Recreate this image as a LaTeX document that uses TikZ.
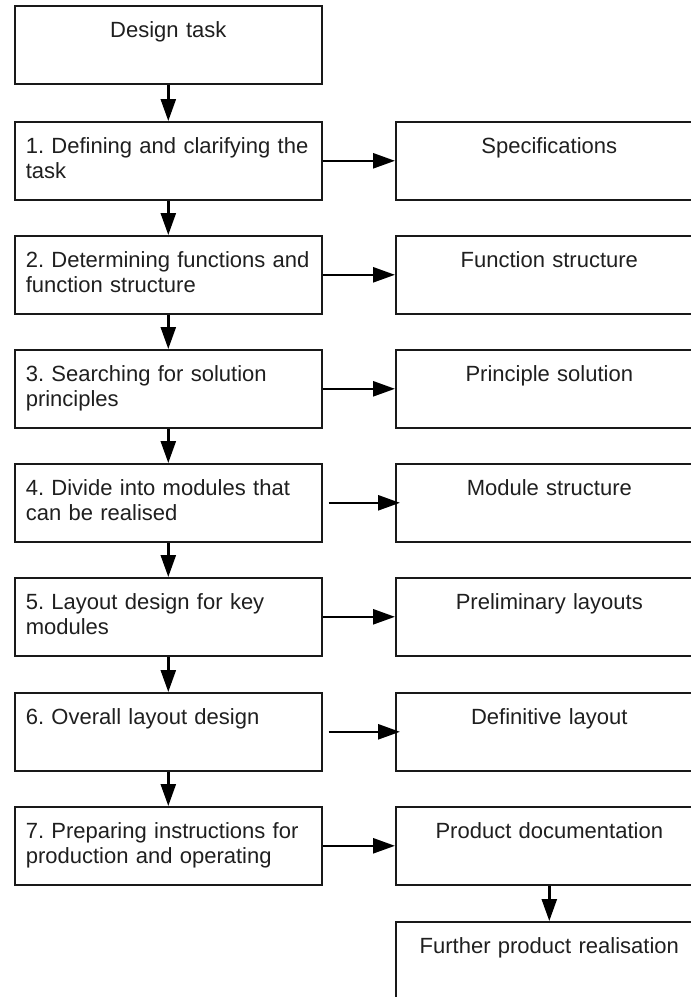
\documentclass[tikz,border=0pt]{standalone}
\usepackage{fontspec}
\setmainfont{Liberation Sans}
\usetikzlibrary{arrows.meta}
\frenchspacing
\begin{document}
\begin{tikzpicture}[x=1pt,y=-1pt,
  box/.style={draw=black!90, line width=1.6pt, rectangle, inner xsep=11pt, inner ysep=0pt,
    text height=32pt, text depth=46pt, font=\fontsize{22}{25}\selectfont\frenchspacing, text=black!88,
    anchor=north west, text width=285pt},
  lbox/.style={box, align=left},
  rbox/.style={box, align=center},
  arr/.style={draw=black, line width=2.6pt, -{Triangle[length=22pt,width=15pt]}}
]
\useasboundingbox (0,0) rectangle (691,997);
\clip (0,0) rectangle (691,997);
\fill[white] (0,0) rectangle (691,997);
% left column
\node[lbox] (d0) at (14,5) {\mbox{}\hfill\mbox{Design task}\hfill\mbox{}};
\node[lbox] (b1) at (14,121) {\mbox{1. Defining and clarifying the}\\\mbox{task}};
\node[lbox] (b2) at (14,235) {\mbox{2. Determining functions and}\\\mbox{function structure}};
\node[lbox] (b3) at (14,349) {\mbox{3. Searching for solution}\\\mbox{principles}};
\node[lbox] (b4) at (14,463) {\mbox{4. Divide into modules that}\\\mbox{can be realised}};
\node[lbox] (b5) at (14,577) {\mbox{5. Layout design for key}\\\mbox{modules}};
\node[lbox] (b6) at (14,692) {\mbox{6. Overall layout design}};
\node[lbox] (b7) at (14,806) {\mbox{7. Preparing instructions for}\\\mbox{production and operating}};
% right column
\node[rbox] (r1) at (395,121) {Specifications};
\node[rbox] (r2) at (395,235) {Function structure};
\node[rbox] (r3) at (395,349) {Principle solution};
\node[rbox] (r4) at (395,463) {Module structure};
\node[rbox] (r5) at (395,577) {Preliminary layouts};
\node[rbox] (r6) at (395,692) {Definitive layout};
\node[rbox] (r7) at (395,806) {Product documentation};
\node[rbox] (r8) at (395,921) {Further product realisation};
% vertical arrows
\draw[arr] (d0.south) -- (b1.north);
\draw[arr] (b1.south) -- (b2.north);
\draw[arr] (b2.south) -- (b3.north);
\draw[arr] (b3.south) -- (b4.north);
\draw[arr] (b4.south) -- (b5.north);
\draw[arr] (b5.south) -- (b6.north);
\draw[arr] (b6.south) -- (b7.north);
\draw[arr] (r7.south) -- (r8.north);
% horizontal arrows
\draw[arr] (b1.east) -- (r1.west);
\draw[arr] (b2.east) -- (r2.west);
\draw[arr] (b3.east) -- (r3.west);
\draw[arr, shorten <=6pt, shorten >=-5pt] (b4.east) -- (r4.west);
\draw[arr] (b5.east) -- (r5.west);
\draw[arr, shorten <=6pt, shorten >=-5pt] (b6.east) -- (r6.west);
\draw[arr] (b7.east) -- (r7.west);
\end{tikzpicture}
\end{document}
